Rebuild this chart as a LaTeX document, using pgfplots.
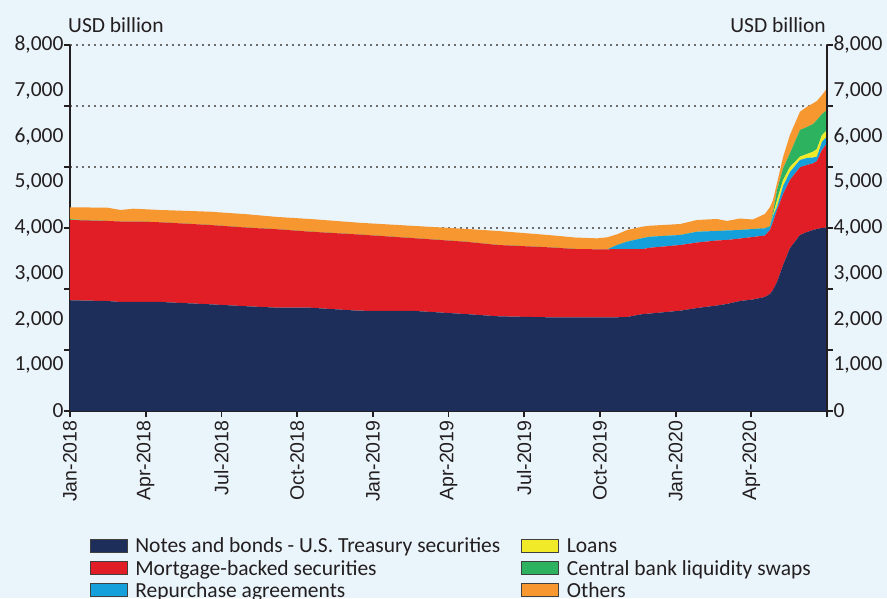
\documentclass[border=0pt]{standalone}
\usepackage{fontspec}
\setmainfont{Carlito}
\newfontfamily\xfont{Liberation Sans}
\usepackage{pgfplots}
\usepackage{pgfplotstable}
\pgfplotsset{compat=1.18}
\definecolor{bgc}{RGB}{234,244,251}
\definecolor{axc}{RGB}{35,31,32}
\definecolor{cnavy}{RGB}{29,46,91}
\definecolor{cred}{RGB}{225,30,38}
\definecolor{cblue}{RGB}{21,160,220}
\definecolor{cyellow}{RGB}{240,234,40}
\definecolor{cgreen}{RGB}{45,178,95}
\definecolor{corange}{RGB}{247,151,48}

\pgfplotstableread{
m tsy mbs repo loans swaps other
0     2420 1755 0   0   15  263
1.49  2404 1749 0   0   0   291
2.00  2383 1759 0   0   0   252
2.51  2383 1759 0   0   0   280
3.58  2383 1742 0   0   0   269
5.56  2332 1733 0   0   0   291
7.03  2289 1718 0   0   0   293
8.22  2258 1714 0   0   0   269
9.52  2258 1661 0   0   0   278
11.43 2192 1666 0   0   0   258
13.68 2186 1589 0   0   0   269
15.66 2120 1580 0   0   0   282
16.97 2070 1558 0   0   0   306
18.95 2048 1530 0   0   0   269
20.02 2048 1493 0   0   0   251
20.89 2048 1486 0   0   0   240
21.29 2048 1486 0   0   0   263
21.68 2048 1493 87  0   0   234
22.08 2055 1486 160 0   0   256
22.71 2120 1421 240 0   0   251
22.99 2131 1438 241 0   0   240
24.18 2192 1436 219 0   0   240
24.85 2251 1432 236 0   0   256
25.64 2306 1421 208 0   0   262
26.03 2339 1399 208 0   0   208
26.55 2404 1366 186 0   0   251
27.06 2437 1366 175 0   0   208
27.54 2492 1344 157 0   0   313
27.74 2557 1399 72  0   15  415
27.86 2645 1486 131 22  66  262
28.02 2820 1574 72  146 219 153
28.26 3191 1552 175 131 256 247
28.53 3556 1493 175 109 299 400
28.93 3847 1480 160 72  584 400
29.21 3913 1465 153 87  590 444
29.45 3956 1458 127 127 605 453
29.60 3978 1486 94  168 634 415
29.80 4000 1705 181 146 459 415
30.00 4011 1840 144 147 437 474
}\fedtable

\begin{document}
\begin{tikzpicture}
\useasboundingbox (-70pt,-187pt) rectangle (817pt,411pt);
\fill[bgc] (-70pt,-187pt) rectangle (817pt,411pt);
\clip (-70pt,-187pt) rectangle (817pt,411pt);
\pgfplotsset{
  common/.style={
    at={(0pt,0pt)}, anchor=origin,
    width=757pt, height=366pt, scale only axis,
    xmin=0, xmax=30, ymin=0, ymax=8000,
    axis line style={line width=2.4pt, color=axc, -},
    tick align=outside, major tick length=6pt,
    tick style={line width=1.8pt, color=axc},
    ytick={0,1333.333,2666.667,4000,5333.333,6666.667,8000},
    yticklabels={},
    scaled y ticks=false,
    extra y ticks={0,1000,2000,3000,4000,5000,6000,7000,8000},
    extra y tick labels={0,{1,000},{2,000},{3,000},{4,000},{5,000},{6,000},{7,000},{8,000}},
    extra y tick style={major tick length=0pt, grid=none},
    yticklabel style={font=\fontsize{21.5}{23}\selectfont, text=axc},
    yticklabel shift=3pt,
  }
}
\begin{axis}[common,
    axis x line*=bottom, axis y line*=left,
    xtick={0,3,...,30},
    xticklabels={Jan-2018,Apr-2018,Jul-2018,Oct-2018,Jan-2019,Apr-2019,Jul-2019,Oct-2019,Jan-2020,Apr-2020,{}},
    xticklabel style={rotate=90, anchor=east, font=\xfont\fontsize{19.5}{19.5}\selectfont, text=axc},
    ymajorgrids,
    grid style={dash pattern=on 1.6pt off 4.4pt, color=gray!85!black, line width=1.4pt},
    stack plots=y,
    legend columns=3, transpose legend,
    legend cell align=left,
    legend image code/.code={\draw[#1, draw=black!75, line width=0.9pt] (0pt,-6pt) rectangle (37pt,7pt); \path (43pt,0pt);},
    legend style={at={(0.022,-0.335)}, anchor=north west, draw=none, fill=none,
      font=\fontsize{21.5}{23}\selectfont, text=axc, row sep=2pt,
      /tikz/every even column/.append style={column sep=19pt}},
  ]
\addplot[fill=cnavy, draw=none] table[x=m, y=tsy] {\fedtable} \closedcycle;
\addlegendentry{Notes and bonds - U.S. Treasury securities}
\addplot[fill=cred, draw=none] table[x=m, y=mbs] {\fedtable} \closedcycle;
\addlegendentry{Mortgage-backed securities}
\addplot[fill=cblue, draw=none] table[x=m, y=repo] {\fedtable} \closedcycle;
\addlegendentry{Repurchase agreements}
\addplot[fill=cyellow, draw=none] table[x=m, y=loans] {\fedtable} \closedcycle;
\addlegendentry{Loans}
\addplot[fill=cgreen, draw=none] table[x=m, y=swaps] {\fedtable} \closedcycle;
\addlegendentry{Central bank liquidity swaps}
\addplot[fill=corange, draw=none] table[x=m, y=other] {\fedtable} \closedcycle;
\addlegendentry{Others}
\end{axis}
\begin{axis}[common,
    axis x line=none, axis y line*=right,
  ]
\end{axis}
\node[anchor=base west, font=\fontsize{21.5}{23}\selectfont, text=axc, inner sep=0pt] at (-2pt,378pt) {USD billion};
\node[anchor=base east, font=\fontsize{21.5}{23}\selectfont, text=axc, inner sep=0pt] at (756pt,378pt) {USD billion};
\end{tikzpicture}
\end{document}
